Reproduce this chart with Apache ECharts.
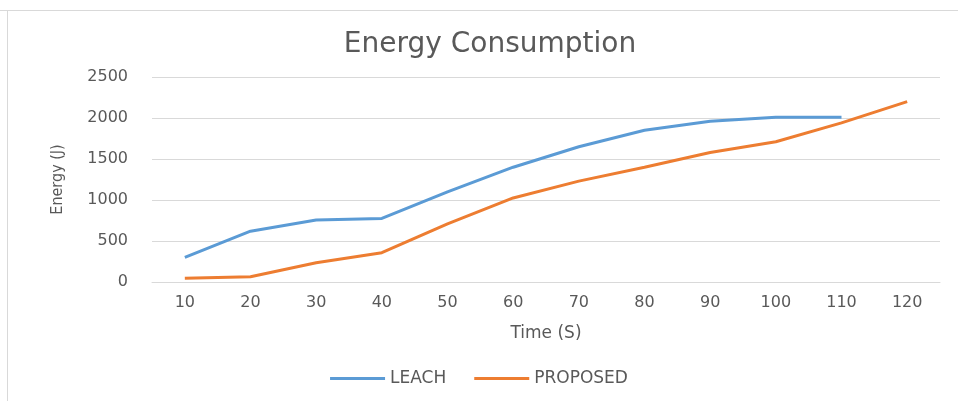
<!DOCTYPE html>
<html><head><meta charset="utf-8">
<script src="https://cdn.jsdelivr.net/npm/echarts@6/dist/echarts.min.js"></script>
<style>html,body{margin:0;padding:0;background:#fff}#c{width:958px;height:401px}</style>
</head><body><div id="c"></div>
<script>
const categories = ['10','20','30','40','50','60','70','80','90','100','110','120'];
const leach = [300, 620, 755, 775, 1100, 1400, 1650, 1850, 1960, 2010, 2010, null];
const proposed = [45, 65, 235, 357, 710, 1025, 1230, 1400, 1580, 1710, 1940, 2200];
const yTicks = [0, 500, 1000, 1500, 2000, 2500];

const FONT = '"DejaVu Sans", "Open Sans", sans-serif';
const TXT = '#595959';
const chart = echarts.init(document.getElementById('c'), null, {renderer: 'canvas'});
chart.setOption({
  animation: false,
  backgroundColor: '#fff',
  graphic: [
    {type: 'line', shape: {x1: 0, y1: 10.5, x2: 958, y2: 10.5}, style: {stroke: '#d9d9d9', lineWidth: 1}},
    {type: 'line', shape: {x1: 7.5, y1: 10, x2: 7.5, y2: 401}, style: {stroke: '#d9d9d9', lineWidth: 1}}
  ],
  title: {
    text: 'Energy Consumption', left: 485, top: 26, textAlign: 'center',
    textStyle: {fontFamily: FONT, fontSize: 28, fontWeight: 'normal', color: TXT}
  },
  legend: {
    bottom: 9, left: 'center', itemWidth: 55, itemHeight: 3, itemGap: 28,
    icon: 'rect',
    textStyle: {fontFamily: FONT, fontSize: 17, color: TXT, padding: [0,0,0,0]},
    data: ['LEACH', 'PROPOSED']
  },
  grid: {left: 152, right: 18, top: 77, bottom: 119, containLabel: false},
  xAxis: {
    type: 'category', data: categories, boundaryGap: true,
    name: 'Time (S)', nameLocation: 'middle', nameGap: 43,
    nameTextStyle: {fontFamily: FONT, fontSize: 17, color: TXT},
    axisLine: {lineStyle: {color: '#d9d9d9'}}, axisTick: {show: false},
    axisLabel: {fontFamily: FONT, fontSize: 16, color: TXT, margin: 13}
  },
  yAxis: {
    type: 'value', min: yTicks[0], max: yTicks[yTicks.length-1], interval: 500,
    name: 'Energy (J)', nameLocation: 'middle', nameGap: 86, nameRotate: 90,
    nameTextStyle: {fontFamily: '"DejaVu Sans Condensed", "Liberation Sans Narrow", sans-serif', fontSize: 16, color: TXT},
    axisLine: {show: false}, axisTick: {show: false},
    splitLine: {lineStyle: {color: '#d9d9d9'}},
    axisLabel: {fontFamily: FONT, fontSize: 16, color: TXT, margin: 24, formatter: v => String(v)}
  },
  series: [
    {name: 'LEACH', type: 'line', data: leach, showSymbol: false, symbol: 'none',
     lineStyle: {color: '#5B9BD5', width: 3}, itemStyle: {color: '#5B9BD5'}},
    {name: 'PROPOSED', type: 'line', data: proposed, showSymbol: false, symbol: 'none',
     lineStyle: {color: '#ED7D31', width: 3}, itemStyle: {color: '#ED7D31'}}
  ]
});
</script></body></html>
